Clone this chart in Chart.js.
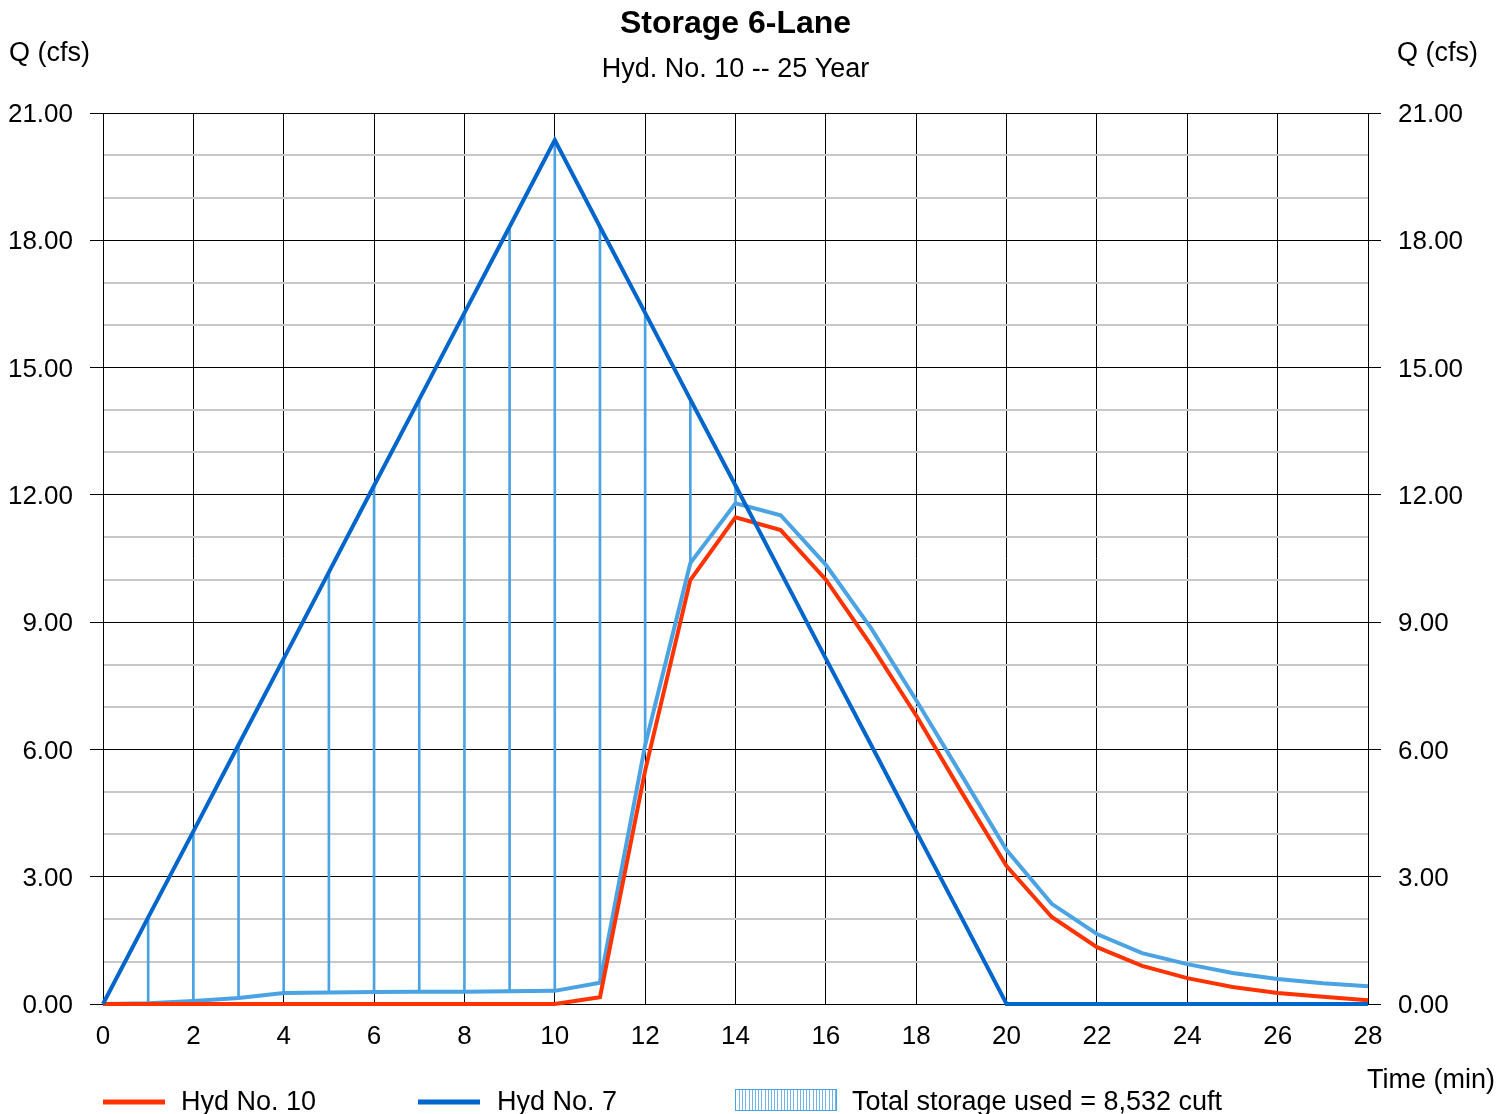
<!DOCTYPE html>
<html>
<head>
<meta charset="utf-8">
<title>Storage 6-Lane</title>
<script src="https://cdn.jsdelivr.net/npm/chart.js@4/dist/chart.umd.min.js"></script>
<style>
  html, body { margin:0; padding:0; background:#fff; }
  #wrap { width:1512px; height:1114px; position:relative; }
</style>
</head>
<body>
<div id="wrap"><canvas id="chart"></canvas></div>
<script>
/* global Chart */
// time (min)
const times = [0,1,2,3,4,5,6,7,8,9,10,11,12,13,14,15,16,17,18,19,20,21,22,23,24,25,26,27,28];
// Hyd No. 7 inflow (cfs)
const hyd7 = [0,2.04,4.07,6.11,8.14,10.18,12.22,14.25,16.29,18.32,20.36,18.32,16.29,14.25,12.22,10.18,8.14,6.11,4.07,2.04,0,0,0,0,0,0,0,0,0];
// Hyd No. 10 outflow (cfs)
const hyd10 = [0,0,0,0,0,0,0,0,0,0,0,0.16,5.5,9.99,11.47,11.17,10.0,8.46,6.8,5.0,3.25,2.05,1.34,0.9,0.61,0.4,0.26,0.17,0.09];
// lower edge of storage hatch (light blue line)
const storLower = [0,0.02,0.07,0.14,0.26,0.27,0.28,0.29,0.29,0.30,0.31,0.50,6.1,10.39,11.8,11.52,10.35,8.86,7.16,5.4,3.63,2.36,1.65,1.2,0.94,0.73,0.59,0.49,0.42];
// minutes where storage hatch lines are drawn
const hatchTimes = [1,2,3,4,5,6,7,8,9,10,11,12,13,14];

const yTickLabels = ['0.00','3.00','6.00','9.00','12.00','15.00','18.00','21.00'];
const xTickLabels = ['0','2','4','6','8','10','12','14','16','18','20','22','24','26','28'];

const C_RED   = '#ff3300';
const C_BLUE  = '#0066cc';
const C_LIGHT = '#4ba3e3';
const C_MINOR = '#c8c8c8';
const FONT = '"Liberation Sans", Arial, sans-serif';

function pts(ys){ return times.map((t, i) => ({ x: t, y: ys[i] })); }

const hatchData = hatchTimes.map(t => ({ x: t, y: [storLower[t], hyd7[t]] }));

function isMajor(ctx){ return ctx.tick && Math.round(ctx.tick.value) % 3 === 0; }
function yLabel(v){
  const i = Math.round(v) / 3;
  return Number.isInteger(i) ? yTickLabels[i] : '';
}

// titles, axis captions and the legend
const decor = {
  id: 'decor',
  afterDraw(chart){
    const ctx = chart.ctx;
    const a = chart.chartArea;
    const cx = (a.left + a.right) / 2;
    ctx.save();
    ctx.fillStyle = '#000';
    ctx.textBaseline = 'middle';

    ctx.textAlign = 'center';
    ctx.font = `bold 32px ${FONT}`;
    ctx.fillText('Storage 6-Lane', cx, 24);
    ctx.font = `27px ${FONT}`;
    ctx.fillText('Hyd. No. 10 -- 25 Year', cx, 70);

    ctx.textAlign = 'left';
    ctx.fillText('Q (cfs)', 9, 54);
    ctx.fillText('Time (min)', 1367, 1081);
    ctx.textAlign = 'right';
    ctx.fillText('Q (cfs)', 1478, 54);

    // legend
    const ly = 1102;
    ctx.textAlign = 'left';
    ctx.lineWidth = 5;
    ctx.strokeStyle = C_RED;
    ctx.beginPath(); ctx.moveTo(103, ly); ctx.lineTo(165, ly); ctx.stroke();
    ctx.fillText('Hyd No. 10', 181, ly + 1);
    ctx.strokeStyle = C_BLUE;
    ctx.beginPath(); ctx.moveTo(418, ly); ctx.lineTo(480, ly); ctx.stroke();
    ctx.fillText('Hyd No. 7', 497, ly + 1);

    ctx.lineWidth = 1;
    ctx.strokeStyle = '#74b4e8';
    for (let x = 739; x < 836; x += 3.2){
      ctx.beginPath(); ctx.moveTo(Math.round(x) + 0.5, 1090); ctx.lineTo(Math.round(x) + 0.5, 1110); ctx.stroke();
    }
    ctx.strokeStyle = C_LIGHT;
    ctx.strokeRect(735.5, 1089.5, 101, 21);
    ctx.fillText('Total storage used = 8,532 cuft', 852, ly + 1);
    ctx.restore();
  }
};

(function init(){
  Chart.defaults.font.family = FONT;
  Chart.defaults.color = '#000';

  new Chart(document.getElementById('chart').getContext('2d'), {
    type: 'line',
    data: {
      datasets: [
        { type: 'bar', label: 'Storage', data: hatchData, backgroundColor: C_LIGHT,
          barThickness: 2, order: 3 },
        { label: 'Storage edge', data: pts(storLower), borderColor: C_LIGHT, borderWidth: 4,
          pointRadius: 0, fill: false, tension: 0, clip: 6, order: 2 },
        { label: 'Hyd No. 10', data: pts(hyd10), borderColor: C_RED, borderWidth: 4,
          pointRadius: 0, fill: false, tension: 0, clip: 6, order: 1 },
        { label: 'Hyd No. 7', data: pts(hyd7), borderColor: C_BLUE, borderWidth: 4,
          pointRadius: 0, fill: false, tension: 0, clip: 6, order: 0 }
      ]
    },
    options: {
      responsive: true,
      maintainAspectRatio: false,
      animation: false,
      layout: { padding: { top: 113, left: 0, right: 0, bottom: 0 } },
      plugins: { legend: { display: false }, tooltip: { enabled: false } },
      scales: {
        x: {
          type: 'linear', min: 0, max: 28, offset: false,
          grid: { color: '#000', lineWidth: 1, tickLength: 0, offset: false },
          border: { color: '#000' },
          ticks: { stepSize: 2, padding: 17, font: { size: 26 }, maxRotation: 0, autoSkip: false,
                   callback: v => xTickLabels[v / 2] },
          afterFit: s => { s.height = 110; }
        },
        y: {
          type: 'linear', position: 'left', min: 0, max: 21,
          grid: {
            color: c => isMajor(c) ? '#000' : C_MINOR,
            lineWidth: c => isMajor(c) ? 1 : 2,
            tickColor: c => isMajor(c) ? '#000' : 'rgba(0,0,0,0)',
            tickLength: 13
          },
          border: { color: '#000' },
          ticks: { stepSize: 1, padding: 17, labelOffset: 2, autoSkip: false, font: { size: 26 }, callback: yLabel },
          afterFit: s => { s.width = 103; }
        },
        y2: {
          type: 'linear', position: 'right', min: 0, max: 21,
          grid: {
            drawOnChartArea: false,
            tickColor: c => isMajor(c) ? '#000' : 'rgba(0,0,0,0)',
            tickLength: 13
          },
          border: { color: '#000' },
          ticks: { stepSize: 1, padding: 17, labelOffset: 2, autoSkip: false, font: { size: 26 }, callback: yLabel },
          afterFit: s => { s.width = 144; }
        }
      }
    },
    plugins: [decor]
  });
})();
</script>
</body>
</html>
